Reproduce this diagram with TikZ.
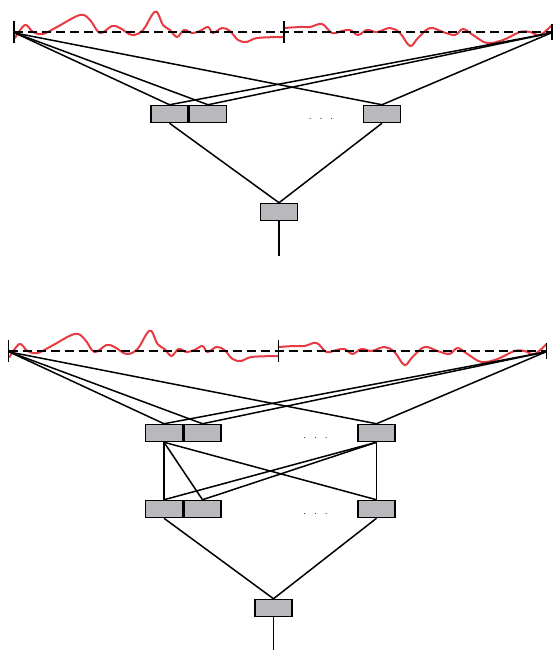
\documentclass[tikz,border=0pt]{standalone}
\begin{document}
\begin{tikzpicture}[x=1pt,y=-1pt,line width=1.5pt,
  unit/.style={draw=black,fill=boxgray,minimum width=37pt,minimum height=17pt,inner sep=0pt,line width=1.5pt},
  conn/.style={line width=1.5pt,black},
  dashline/.style={dash pattern=on 9pt off 5pt,line width=1.5pt},
  tick/.style={line width=1.5pt},
  wave/.style={draw=wavered,line width=2pt,smooth,tension=0.6,line cap=round},
  dotsnode/.style={font=\normalsize,inner sep=0pt}]
\definecolor{boxgray}{RGB}{184,184,189}
\definecolor{wavered}{RGB}{232,58,66}
\useasboundingbox (0,0) rectangle (553,650);

% ---------------- top diagram ----------------
\begin{scope}
\draw[wave] plot coordinates {(15,38) (25,25) (33,32) (43,34) (57,27) (80,15) (90,20) (100,33) (112,26) (120,28) (132,35) (143,30) (152,15) (157,12) (163,25) (170,30) (177,37) (184,30) (192,33) (200,31) (208,27) (213,33) (222,28) (230,31) (238,40) (247,42) (257,38) (283,37)};
\draw[wave] plot coordinates {(284,28) (300,27) (310,27) (322,24) (332,33) (342,31) (350,30) (358,35) (367,30) (377,32) (390,28) (400,33) (410,46) (418,38) (430,28) (443,32) (455,35) (463,29) (473,35) (487,43) (503,40) (520,32) (530,32) (540,35) (552,25)};
\draw[dashline] (14,32) -- (552,32);
\draw[tick] (14,21) -- (14,43);
\draw[tick] (284,21) -- (284,43);
\draw[tick] (552,24) -- (552,40);
\coordinate (L1) at (15,33);
\coordinate (R1) at (551,33);
\node[unit] (a1) at (169.5,114) {};
\node[unit] (a2) at (208,114) {};
\node[unit] (a3) at (382,114) {};
\node[dotsnode] (dA) at (321,119) {.\hspace{8pt}.\hspace{8pt}.};
\node[unit] (e1) at (279,212) {};
\coordinate (o1) at (279,256);
\foreach \n in {a1,a2,a3} {
  \draw[conn] (L1) -- (\n.north);
  \draw[conn] (R1) -- (\n.north);
}
\draw[conn] (a1.south) -- (e1.north);
\draw[conn] (a3.south) -- (e1.north);
\draw[conn] (e1.south) -- (o1);
\end{scope}

% ---------------- bottom diagram ----------------
\begin{scope}[shift={(-5.5,319)}]
\draw[wave] plot coordinates {(15,38) (25,25) (33,32) (43,34) (57,27) (80,15) (90,20) (100,33) (112,26) (120,28) (132,35) (143,30) (152,15) (157,12) (163,25) (170,30) (177,37) (184,30) (192,33) (200,31) (208,27) (213,33) (222,28) (230,31) (238,40) (247,42) (257,38) (283,37)};
\draw[wave] plot coordinates {(284,28) (300,27) (310,27) (322,24) (332,33) (342,31) (350,30) (358,35) (367,30) (377,32) (390,28) (400,33) (410,46) (418,38) (430,28) (443,32) (455,35) (463,29) (473,35) (487,43) (503,40) (520,32) (530,32) (540,35) (552,25)};
\draw[dashline] (14,32) -- (552,32);
\draw[tick] (14,21) -- (14,43);
\draw[tick] (284,21) -- (284,43);
\draw[tick] (552,24) -- (552,40);
\coordinate (L2) at (15,33);
\coordinate (R2) at (551,33);
\node[unit] (b1) at (169.5,114) {};
\node[unit] (b2) at (208,114) {};
\node[unit] (b3) at (382,114) {};
\node[dotsnode] (dB) at (321,119) {.\hspace{8pt}.\hspace{8pt}.};
\node[unit] (c1) at (169.5,190) {};
\node[unit] (c2) at (208,190) {};
\node[unit] (c3) at (382,190) {};
\node[dotsnode] (dC) at (321,195) {.\hspace{8pt}.\hspace{8pt}.};
\node[unit] (f1) at (279,289) {};
\coordinate (o2) at (279,331);
\foreach \n in {b1,b2,b3} {
  \draw[conn] (L2) -- (\n.north);
  \draw[conn] (R2) -- (\n.north);
}
\draw[conn] (b1.south) -- (c1.north);
\draw[conn] (b1.south) -- (c2.north);
\draw[conn] (b1.south) -- (c3.north);
\draw[conn] (b3.south) -- (c1.north);
\draw[conn] (b3.south) -- (c2.north);
\draw[conn] (b3.south) -- (c3.north);
\draw[conn] (c1.south) -- (f1.north);
\draw[conn] (c3.south) -- (f1.north);
\draw[conn] (f1.south) -- (o2);
\end{scope}
\end{tikzpicture}
\end{document}
